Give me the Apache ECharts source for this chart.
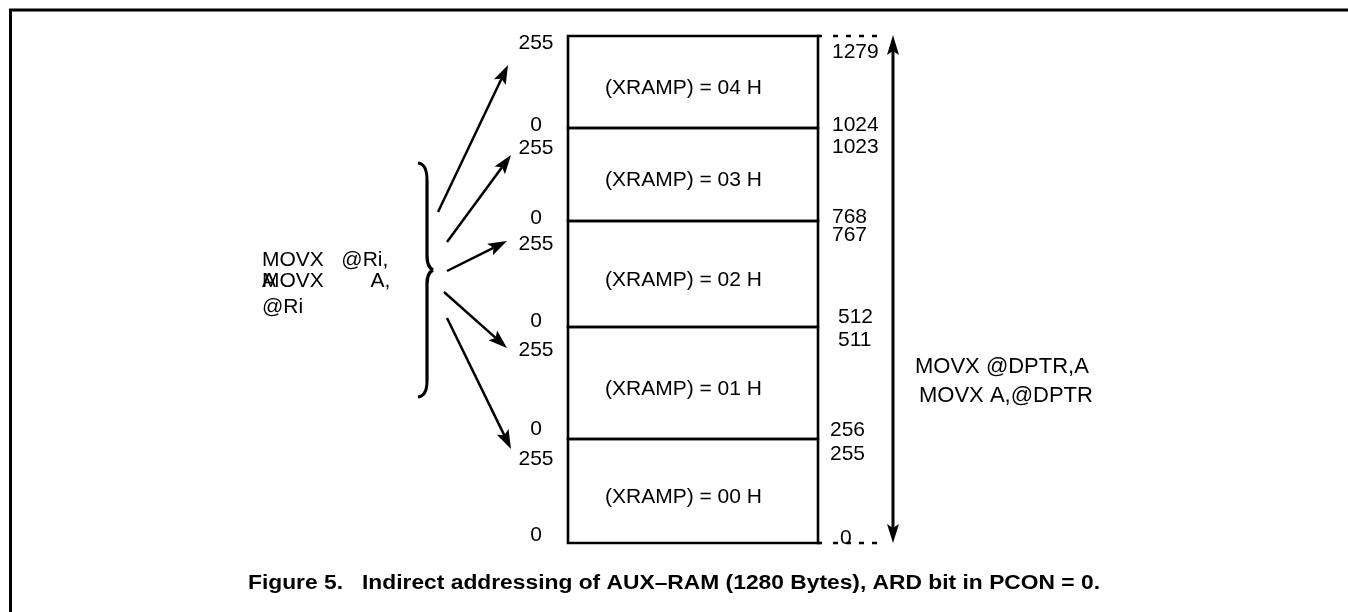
<!DOCTYPE html>
<html>
<head>
<meta charset="utf-8">
<script src="https://cdn.jsdelivr.net/npm/echarts@6/dist/echarts.min.js"></script>
<style>
html,body{margin:0;padding:0;background:#fff;}
#c{width:1348px;height:612px;}
</style>
</head>
<body>
<div id="c"></div>
<script>
// ---------------- DATA ----------------
const pageLabels = ['(XRAMP) = 00 H', '(XRAMP) = 01 H', '(XRAMP) = 02 H', '(XRAMP) = 03 H', '(XRAMP) = 04 H'];
const pageStart = [0, 256, 512, 768, 1024];
const pageSize = 256;
const totalSize = 1280;
const localTickLabels = ['0', '255'];
const riWrite = ['MOVX   @Ri,', 'A'];
const riRead = ['MOVX        A,', '@Ri'];
const dptrLines = ['MOVX @DPTR,A', 'MOVX A,@DPTR'];
const caption = 'Figure 5.   Indirect addressing of AUX\u2013RAM (1280 Bytes), ARD bit in PCON = 0.';

// ---------------- LAYOUT (pixels / styles) ----------------
const FONT = '"Liberation Sans", Arial, Helvetica, sans-serif';
const L = {
  boxLeft: 568, boxWidth: 250,
  edges: [543, 439, 327, 221, 128, 36],
  fs: 21,
  boxLine: 2.6,
  textDx: 37, textDy: 6,
  leftDx: 32,
  leftTopOff: [20, 23, 23, 20, 7],
  leftBotOff: [8, 10, 6, 3, 3],
  rightTopOff: [15, 13, 14, 19, 16],
  rightBotOff: [5, 9, 10, 4, 3],
  rightTopDx: [12, 20, 14, 14, 14],
  rightBotDx: [22, 12, 20, 14, 14],
  arrowStart: [[447, 318], [444, 292], [447, 271], [447, 242], [438, 212]],
  arrowTipX: [511, 507, 507, 511, 508],
  arrowTipOff: [10, 21, 20, 27, 29],
  rangeArrowX: 893
};

function txt(x, y, t, align, size, weight, vAlign) {
  const va = vAlign || 'middle';
  return {
    type: 'text',
    style: {
      x: x, y: y, text: t, fill: '#000',
      font: (weight || 'normal') + ' ' + (size || L.fs) + 'px ' + FONT,
      align: align || 'left', textAlign: align || 'left',
      verticalAlign: va, textVerticalAlign: va
    }
  };
}

function arrow(a, b, lw, headLen, headHalf) {
  const dx = b[0] - a[0], dy = b[1] - a[1];
  const len = Math.hypot(dx, dy), ux = dx / len, uy = dy / len;
  const bx = b[0] - ux * headLen, by = b[1] - uy * headLen;
  const px = -uy, py = ux;
  const nx = b[0] - ux * headLen * 0.8, ny = b[1] - uy * headLen * 0.8;
  return [
    { type: 'line', shape: { x1: a[0], y1: a[1], x2: nx, y2: ny }, style: { stroke: '#000', lineWidth: lw } },
    { type: 'polygon', shape: { points: [[b[0], b[1]], [bx + px * headHalf, by + py * headHalf], [nx, ny], [bx - px * headHalf, by - py * headHalf]] }, style: { fill: '#000' } }
  ];
}

function renderPage(params, api) {
  const p = api.value(3), s = api.value(1), e = api.value(2);
  const bl = api.coord([0, s]), tr = api.coord([1, e]);
  const x0 = bl[0], x1 = tr[0], yb = bl[1], yt = tr[1];
  const children = [
    { type: 'rect', shape: { x: x0, y: yt, width: x1 - x0, height: yb - yt }, style: { fill: 'none', stroke: '#000', lineWidth: L.boxLine } },
    txt(x0 + L.textDx, (yt + yb) / 2 + L.textDy, pageLabels[p]),
    txt(x0 - L.leftDx, yt + L.leftTopOff[p], localTickLabels[1], 'center'),
    txt(x0 - L.leftDx, yb - L.leftBotOff[p], localTickLabels[0], 'center'),
    txt(x1 + L.rightTopDx[p], yt + L.rightTopOff[p], String(e - 1)),
    txt(x1 + L.rightBotDx[p], yb - L.rightBotOff[p], String(s))
  ];
  arrow(L.arrowStart[p], [L.arrowTipX[p], yt + L.arrowTipOff[p]], 2.5, 19, 6.5).forEach(c => children.push(c));
  return { type: 'group', children: children };
}

function renderRange(params, api) {
  const lo = api.coord([0, api.value(1)]), hi = api.coord([1, api.value(2)]);
  const xL = lo[0], xR = hi[0], yB = lo[1], yT = hi[1];
  const dash = (y) => ({ type: 'line', shape: { x1: xL + 15, y1: y, x2: xR - 12, y2: y }, style: { stroke: '#000', lineWidth: 2.4, lineDash: [5, 8] } });
  const stub = (y) => ({ type: 'line', shape: { x1: xL - 1, y1: y, x2: xL + 4, y2: y }, style: { stroke: '#000', lineWidth: L.boxLine } });
  const hl = 19, hw = 6;
  return {
    type: 'group',
    children: [
      stub(yT), stub(yB), dash(yT), dash(yB),
      { type: 'line', shape: { x1: xR, y1: yT + hl - 4, x2: xR, y2: yB - hl + 4 }, style: { stroke: '#000', lineWidth: 3 } },
      { type: 'polygon', shape: { points: [[xR, yT - 1], [xR - hw, yT + hl], [xR, yT + hl - 4], [xR + hw, yT + hl]] }, style: { fill: '#000' } },
      { type: 'polygon', shape: { points: [[xR, yB], [xR - hw, yB - hl], [xR, yB - hl + 4], [xR + hw, yB - hl]] }, style: { fill: '#000' } }
    ]
  };
}

const grids = [], xAxes = [], yAxes = [], series = [];
for (let i = 0; i < pageStart.length; i++) {
  const bottomPx = L.edges[i], topPx = L.edges[i + 1];
  grids.push({ left: L.boxLeft, width: L.boxWidth, top: topPx, height: bottomPx - topPx, containLabel: false, outerBoundsMode: 'none' });
  xAxes.push({ type: 'value', gridIndex: i, min: 0, max: 1, show: false });
  yAxes.push({ type: 'value', gridIndex: i, min: pageStart[i], max: pageStart[i] + pageSize, show: false });
  series.push({
    type: 'custom', xAxisIndex: i, yAxisIndex: i, silent: true, clip: false,
    renderItem: renderPage, encode: { x: 0, y: 1 },
    data: [[0, pageStart[i], pageStart[i] + pageSize, i]]
  });
}
// whole-range grid for the right double arrow
const ri = pageStart.length;
grids.push({ left: L.boxLeft + L.boxWidth, width: L.rangeArrowX - L.boxLeft - L.boxWidth, top: L.edges[L.edges.length - 1], height: L.edges[0] - L.edges[L.edges.length - 1], containLabel: false, outerBoundsMode: 'none' });
xAxes.push({ type: 'value', gridIndex: ri, min: 0, max: 1, show: false });
yAxes.push({ type: 'value', gridIndex: ri, min: 0, max: totalSize, show: false });
series.push({
  type: 'custom', xAxisIndex: ri, yAxisIndex: ri, silent: true, clip: false,
  renderItem: renderRange, encode: { x: 0, y: 1 },
  data: [[0, 0, totalSize]]
});

function gtext(x, y, t, size, weight, align, lineHeight, sx) {
  const el = {
    type: 'text', silent: true,
    style: {
      x: 0, y: 0, text: t, fill: '#000',
      font: (weight || 'normal') + ' ' + size + 'px ' + FONT,
      align: align || 'left', textAlign: align || 'left',
      verticalAlign: 'top', textVerticalAlign: 'top',
      lineHeight: lineHeight || size
    },
    x: x, y: y
  };
  if (sx) { el.scaleX = sx; }
  return el;
}
function gline(x1, y1, x2, y2, w) {
  return { type: 'line', silent: true, shape: { x1: x1, y1: y1, x2: x2, y2: y2 }, style: { stroke: '#000', lineWidth: w } };
}
function gcurve(x1, y1, cx, cy, x2, y2, w) {
  return { type: 'bezierCurve', silent: true, shape: { x1: x1, y1: y1, x2: x2, y2: y2, cpx1: cx, cpy1: cy }, style: { stroke: '#000', lineWidth: w, fill: 'none' } };
}

const chart = echarts.init(document.getElementById('c'));
chart.setOption({
  backgroundColor: '#fff',
  animation: false,
  grid: grids,
  xAxis: xAxes,
  yAxis: yAxes,
  series: series,
  graphic: {
    elements: [
      { type: 'rect', silent: true, shape: { x: 10.5, y: 10, width: 1400, height: 700 }, style: { fill: 'none', stroke: '#000', lineWidth: 3 } },
      // right curly brace
      gcurve(418, 163, 427, 164, 427, 180, 3),
      gline(427, 180, 427, 256, 3.2),
      gcurve(427, 256, 427, 267, 433, 270, 3.4),
      gcurve(433, 270, 427, 273, 427, 284, 3.4),
      gline(427, 284, 427, 381, 3.2),
      gcurve(427, 381, 427, 396, 418, 397, 3),
      gtext(262, 249.5, riWrite.join('\n'), L.fs, 'normal', 'left', 21),
      gtext(262, 268, riRead.join('\n'), L.fs, 'normal', 'left', 26),
      gtext(915, 356, dptrLines[0], 22, 'normal', 'left', 22),
      gtext(919, 385, dptrLines[1], 22, 'normal', 'left', 22),
      gtext(674, 572, caption, 20, 'bold', 'center', 22, 1.14)
    ]
  }
});
</script>
</body>
</html>
